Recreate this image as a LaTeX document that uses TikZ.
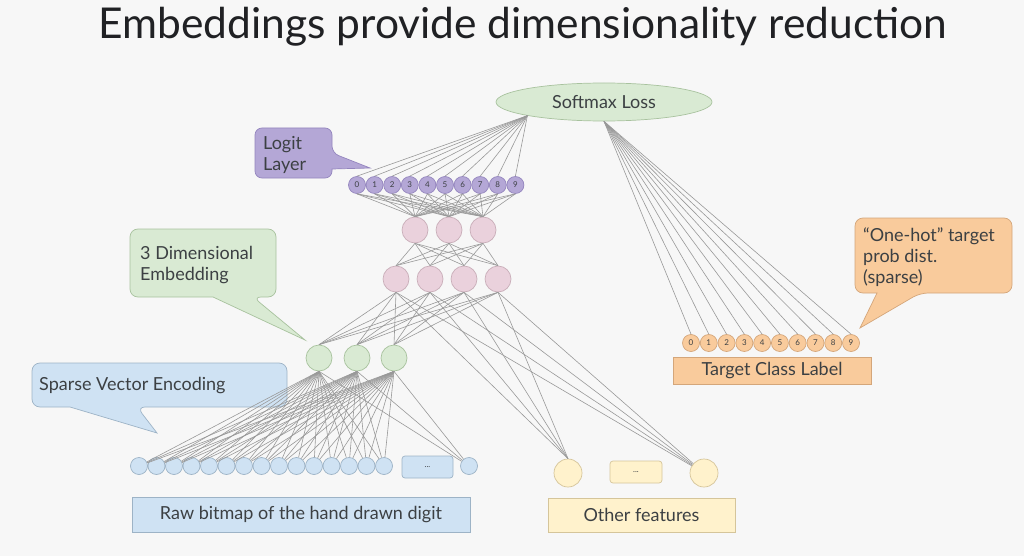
\documentclass[tikz,border=0pt]{standalone}
\usepackage{fontspec}
\setmainfont{Lato}
\usetikzlibrary{shapes.geometric}
\definecolor{bg}{HTML}{F7F7F7}
\definecolor{txt}{HTML}{3C4043}
\definecolor{ttl}{HTML}{202124}
\definecolor{lgray}{HTML}{999999}
\definecolor{purF}{HTML}{B4A7D6}
\definecolor{purD}{HTML}{9485BE}
\definecolor{pinkF}{HTML}{EAD1DC}
\definecolor{pinkD}{HTML}{C9AEB9}
\definecolor{greF}{HTML}{D9EAD3}
\definecolor{greD}{HTML}{A8C29E}
\definecolor{bluF}{HTML}{CFE2F3}
\definecolor{bluD}{HTML}{9DB3C6}
\definecolor{yelF}{HTML}{FFF2CC}
\definecolor{yelD}{HTML}{D5C59A}
\definecolor{oraF}{HTML}{F9CB9C}
\definecolor{oraD}{HTML}{D4A67A}
\begin{document}
\begin{tikzpicture}[x=1pt,y=-1pt,
  edge/.style={draw=lgray, line width=0.6pt},
  lbl/.style={font=\fontsize{18}{21}\selectfont, text=txt, inner sep=0pt, align=left},
  unit/.style={circle, inner sep=0pt, line width=0.7pt, font=\fontsize{8}{9}\selectfont, text=txt},
  logit/.style={unit, minimum size=17pt, fill=purF, draw=purD},
  hid/.style={unit, minimum size=26pt, fill=pinkF, draw=pinkD},
  emb/.style={unit, minimum size=26pt, fill=greF, draw=greD},
  bit/.style={unit, minimum size=17pt, fill=bluF, draw=bluD},
  oth/.style={unit, minimum size=28pt, fill=yelF, draw=yelD},
  tgt/.style={unit, minimum size=17pt, fill=oraF, draw=oraD},
  box/.style={rectangle, inner sep=0pt, line width=0.7pt, font=\fontsize{18}{21}\selectfont, text=txt},
  dots/.style={rectangle, rounded corners=3pt, inner sep=0pt, line width=0.7pt, font=\fontsize{8}{9}\selectfont, text=txt},
  callpur/.style={draw=purD, fill=purF, line width=0.7pt},
  callgre/.style={draw=greD, fill=greF, line width=0.7pt},
  callblu/.style={draw=bluD, fill=bluF, line width=0.7pt},
  callora/.style={draw=oraD, fill=oraF, line width=0.7pt}
]
\fill[bg] (0,0) rectangle (1024,556);
\useasboundingbox (0,0) rectangle (1024,556);

% title
\node[anchor=base, text=ttl, inner sep=0pt, font=\fontsize{42.5}{46}\selectfont] (title) at (523,39) {Embeddings provide dimensionality reduction};

% callouts
\path[callpur, rounded corners=7pt] (255,128) -- (332,128) -- (332,153) [sharp corners] -- (370,168) -- (332,169) [rounded corners=7pt] -- (332,178) -- (255,178) -- cycle;
\node[lbl, anchor=north west] (logitlbl) at (263,136) {Logit\\Layer};

\path[callgre, rounded corners=8pt] (130,229) -- (276,229) -- (276,297) -- (253,297) [sharp corners] -- (305,340) -- (213,297) [rounded corners=8pt] -- (130,297) -- cycle;
\node[lbl, anchor=north west] (emblbl) at (140,246) {3 Dimensional\\Embedding};

\path[callblu, rounded corners=8pt] (32,363) -- (287,363) -- (287,407) -- (137,407) [sharp corners] -- (157,433) -- (70,407) [rounded corners=8pt] -- (32,407) -- cycle;
\node[lbl, anchor=west] (sparselbl) at (39,386) {Sparse Vector Encoding};

\path[callora, rounded corners=8pt] (855,218) -- (1012,218) -- (1012,293) -- (920,293) [sharp corners] -- (860,328) -- (877,293) [rounded corners=8pt] -- (855,293) -- cycle;
\node[lbl, anchor=north west] (onehotlbl) at (863,228) {“One-hot” target\\prob dist.\\(sparse)};

% softmax
\node[ellipse, minimum width=216pt, minimum height=38pt, inner sep=0pt, fill=greF, draw=greD, line width=0.7pt, font=\fontsize{18}{21}\selectfont, text=txt] (sm) at (604,102) {Softmax Loss};

% logit layer
\foreach \i in {0,...,9} \node[logit] (l\i) at ({357+17.6*\i},185) {\i};
% hidden 2
\foreach \j/\x in {1/415,2/449,3/483} \node[hid] (q\j) at (\x,230) {};
% hidden 1
\foreach \j/\x in {1/396,2/430,3/464,4/498} \node[hid] (p\j) at (\x,279) {};
% embedding
\foreach \j/\x in {1/319,2/357,3/394} \node[emb] (g\j) at (\x,358) {};
% bitmap
\foreach \i in {1,...,15} \node[bit] (b\i) at ({139+17.5*(\i-1)},466) {};
\node[dots, minimum width=51pt, minimum height=22pt, fill=bluF, draw=bluD] (bdots) at (427.5,467) {...};
\node[bit] (b16) at (469,466) {};
\node[box, minimum width=338pt, minimum height=35pt, fill=bluF, draw=bluD] (rawlbl) at (301,514.5) {Raw bitmap of the hand drawn digit};
% other features
\node[oth] (o1) at (568,473) {};
\node[dots, minimum width=52pt, minimum height=22pt, fill=yelF, draw=yelD] (odots) at (636,472) {...};
\node[oth] (o2) at (704,473) {};
\node[box, minimum width=187pt, minimum height=34pt, fill=yelF, draw=yelD] (othlbl) at (641.5,515) {Other features};
% target
\foreach \i in {0,...,9} \node[tgt] (t\i) at ({691+17.78*\i},343) {\i};
\node[box, minimum width=198pt, minimum height=27pt, fill=oraF, draw=oraD] (tgtlbl) at (772,370.5) {Target Class Label};

% connectors
\foreach \i in {0,...,9} \draw[edge] (l\i.north) -- (sm.south west);
\foreach \i in {0,...,9} \draw[edge] (sm.south) -- (t\i.north);
\foreach \i in {0,...,9} \foreach \j in {1,2,3} \draw[edge] (l\i.south) -- (q\j.north);
\foreach \i in {1,2,3} \foreach \j in {1,...,4} \draw[edge] (q\i.south) -- (p\j.north);
\foreach \i in {1,...,4} \foreach \j in {1,2,3} \draw[edge] (p\i.south) -- (g\j.north);
\foreach \i in {1,...,4} \draw[edge] (p\i.south) -- (o1.north);
\foreach \i in {1,...,4} \draw[edge] (p\i.south) -- (o2);
\foreach \j in {1,2,3} \foreach \i in {1,...,16} \draw[edge] (g\j.south) -- (b\i);
\end{tikzpicture}
\end{document}
